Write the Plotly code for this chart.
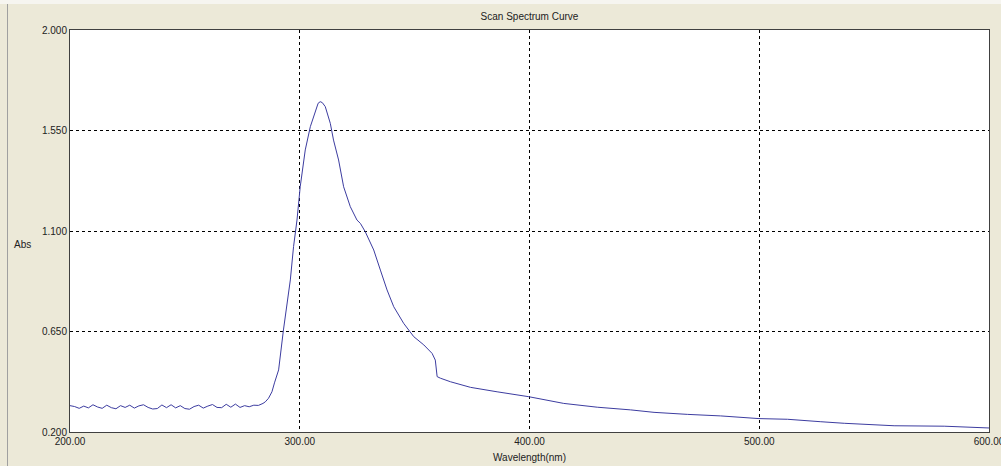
import plotly.graph_objects as go

# Wavelength (nm) and absorbance
wavelength = [200, 202, 204, 206, 208, 210, 212, 214, 216, 218, 220, 222, 224, 226, 228,
              230, 232, 234, 236, 238, 240, 242, 244, 246, 248, 250, 252, 254, 256, 258,
              260, 262, 264, 266, 268, 270, 272, 274, 276, 278, 280, 282, 284,
              285.0, 286.4, 287.9, 289.0, 290.8, 292.9, 295.9, 297.3, 298.8, 300.2, 302.4,
              304.6, 306.5, 308.0, 308.9, 309.8, 311.1, 313.3, 314.7, 316.9, 319.1, 322.0,
              324.9, 326.4, 328.5, 332.2, 335.1, 338.0, 340.9, 345.2, 349.6, 354.0, 357.6,
              359.0, 359.8, 361.2, 365.6, 374.3, 385.9, 399.7, 414.9, 429.5, 444.0, 454.2,
              468.7, 483.2, 499.9, 512.3, 526.8, 537.0, 558.7, 580.5, 600.0]
absorbance = [0.318, 0.314, 0.306, 0.316, 0.308, 0.322, 0.312, 0.306, 0.320, 0.309, 0.304,
              0.318, 0.310, 0.320, 0.307, 0.317, 0.322, 0.310, 0.303, 0.305, 0.321, 0.309,
              0.322, 0.308, 0.318, 0.305, 0.302, 0.314, 0.320, 0.307, 0.316, 0.323, 0.310,
              0.309, 0.324, 0.311, 0.325, 0.310, 0.318, 0.313, 0.320, 0.319, 0.328,
              0.335, 0.351, 0.380, 0.420, 0.478, 0.657, 0.881, 1.030, 1.149, 1.298, 1.463,
              1.567, 1.630, 1.672, 1.679, 1.675, 1.657, 1.582, 1.507, 1.418, 1.298, 1.209,
              1.149, 1.134, 1.097, 1.015, 0.925, 0.836, 0.761, 0.687, 0.627, 0.590, 0.552,
              0.522, 0.448, 0.441, 0.425, 0.400, 0.380, 0.358, 0.328, 0.311, 0.299, 0.288,
              0.279, 0.272, 0.260, 0.257, 0.246, 0.239, 0.228, 0.226, 0.218]

x_ticks = [200, 300, 400, 500, 600]
x_tick_labels = ["200.00", "300.00", "400.00", "500.00", "600.00"]
y_ticks = [0.2, 0.65, 1.1, 1.55, 2.0]
y_tick_labels = ["0.200", "0.650", "1.100", "1.550", "2.000"]

FONT = dict(family="Liberation Sans, Arial, sans-serif", size=10, color="#222222")

fig = go.Figure()
fig.add_trace(go.Scatter(x=wavelength, y=absorbance, mode="lines",
                         line=dict(color="#3C3CA0", width=1), showlegend=False,
                         hoverinfo="x+y"))

fig.update_layout(
    width=1001, height=466,
    margin=dict(l=70, r=12, t=30, b=34, pad=0, autoexpand=False),
    paper_bgcolor="#ECE9D8",
    plot_bgcolor="#FFFFFF",
    font=FONT,
    title=dict(text="Scan Spectrum Curve", x=0.5, xref="paper", xanchor="center",
               y=1 - 16 / 466, yref="container", yanchor="middle", font=FONT),
    xaxis=dict(range=[200, 600], tickvals=x_ticks, ticktext=x_tick_labels,
               showgrid=True, gridcolor="#000000", gridwidth=1, griddash="3px,3px",
               showline=True, linecolor="#404040", linewidth=1, mirror=True,
               ticks="", zeroline=False, tickfont=FONT, ticklabeloverflow="allow",
               automargin=False),
    yaxis=dict(range=[0.2, 2.0], tickvals=y_ticks, ticktext=y_tick_labels,
               showgrid=True, gridcolor="#000000", gridwidth=1, griddash="3px,3px",
               showline=True, linecolor="#404040", linewidth=1, mirror=True,
               ticks="", zeroline=False, tickfont=FONT, ticklabeloverflow="allow",
               automargin=False),
    annotations=[
        dict(text="Abs", x=(12 - 70) / 919, y=(432 - 244) / 402, xref="paper", yref="paper",
             xanchor="left", yanchor="middle", showarrow=False, font=FONT),
        dict(text="Wavelength(nm)", x=0.5, y=(432 - 457) / 402, xref="paper", yref="paper",
             xanchor="center", yanchor="middle", showarrow=False, font=FONT),
    ],
    shapes=[
        dict(type="rect", xref="paper", yref="paper", x0=-70 / 919, x1=(1001 - 70) / 919,
             y0=(432 - 4) / 402, y1=432 / 402, fillcolor="#F6F5F0", line=dict(width=0),
             layer="below"),
        dict(type="line", xref="paper", yref="paper", x0=(7.5 - 70) / 919, x1=(7.5 - 70) / 919,
             y0=(432 - 4) / 402, y1=(432 - 466) / 402, line=dict(color="#A0A0A0", width=1)),
    ],
)

fig.write_html("out.html")
